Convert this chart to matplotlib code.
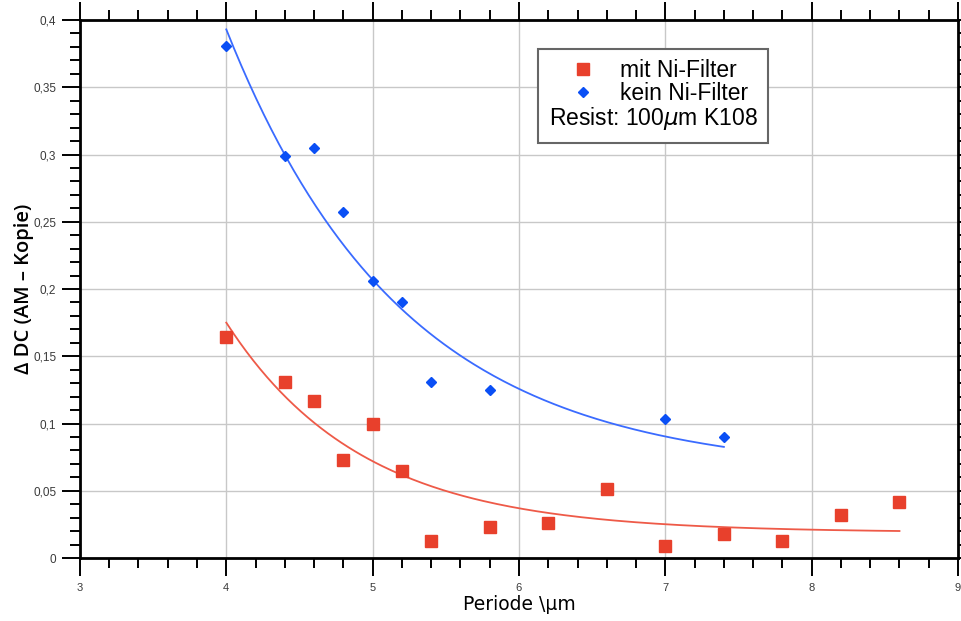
import numpy as np
from matplotlib import pyplot as plt
from matplotlib.ticker import MultipleLocator, FuncFormatter

# measured values
periode_mit = [4.0, 4.4, 4.6, 4.8, 5.0, 5.2, 5.4, 5.8, 6.2, 6.6, 7.0, 7.4, 7.8, 8.2, 8.6]
dc_mit = [0.164, 0.131, 0.117, 0.073, 0.100, 0.065, 0.013, 0.023, 0.026, 0.051,
          0.009, 0.018, 0.013, 0.032, 0.042]

periode_kein = [4.0, 4.4, 4.6, 4.8, 5.0, 5.2, 5.4, 5.8, 7.0, 7.4]
dc_kein = [0.381, 0.299, 0.305, 0.257, 0.206, 0.190, 0.131, 0.125, 0.103, 0.090]

# exponential fit y = a + b*exp(-c*(x-4)), parameters
fit_mit = (0.019, 0.156, 1.08)
fit_kein = (0.063, 0.330, 0.83)


def fit_curve(x, params):
    a, b, c = params
    return a + b * np.exp(-c * (x - 4.0))


plt.rcParams['font.family'] = ['Liberation Sans', 'DejaVu Sans']

fig = plt.figure(figsize=(9.61, 6.21), dpi=100)
ax = fig.add_axes([0.0832, 0.1014, 0.9137, 0.8664])

red = '#E8402C'
blue = '#0A4FF5'

ax.plot(periode_mit, dc_mit, 's', color=red, markersize=8.5, label='mit Ni-Filter', zorder=3)
ax.plot(periode_kein, dc_kein, 'D', color=blue, markersize=5, label='kein Ni-Filter', zorder=3)

x_mit = np.linspace(min(periode_mit), max(periode_mit), 200)
x_kein = np.linspace(min(periode_kein), max(periode_kein), 200)
ax.plot(x_mit, fit_curve(x_mit, fit_mit), '-', color='#EE5A48', lw=1.3, zorder=2)
ax.plot(x_kein, fit_curve(x_kein, fit_kein), '-', color='#3A6BFF', lw=1.3, zorder=2)

ax.set_xlim(3, 9)
ax.set_ylim(0, 0.4)

ax.xaxis.set_major_locator(MultipleLocator(1))
ax.xaxis.set_minor_locator(MultipleLocator(0.2))
ax.yaxis.set_major_locator(MultipleLocator(0.05))
ax.yaxis.set_minor_locator(MultipleLocator(0.01))
ax.yaxis.set_major_formatter(FuncFormatter(lambda v, p: ('%g' % round(v, 3)).replace('.', ',')))

ax.tick_params(which='both', direction='out', top=True, right=True, width=1.4,
               labelsize=8.5, labelcolor='#3a3a3a', pad=4)
ax.tick_params(which='major', length=13)
ax.tick_params(which='minor', length=7)
ax.tick_params(axis='x', which='major', labelsize=8, pad=5)
ax.tick_params(labeltop=False, labelright=False)

for s in ax.spines.values():
    s.set_linewidth(2)

ax.grid(which='major', color='#C8C8C8', lw=1)
ax.set_axisbelow(True)

ax.set_xlabel('Periode \\µm', fontsize=13.5, family='DejaVu Sans')
ax.xaxis.label.set_verticalalignment('center')
ax.xaxis.set_label_coords(0.5, -0.087)
ax.set_ylabel('Δ DC (AM – Kopie)', fontsize=14.5, family=['Open Sans', 'DejaVu Sans'],
              fontweight='semibold')
ax.yaxis.label.set_verticalalignment('center')
ax.yaxis.set_label_coords(-0.064, 0.5)

leg = ax.legend(loc='upper left', bbox_to_anchor=(0.522, 0.946), borderaxespad=0,
                fontsize=16.5, title='Resist: 100$\\mu$m K108', title_fontsize=16.5,
                fancybox=False, framealpha=1, edgecolor='#666666',
                handletextpad=0.5, borderpad=0.45, labelspacing=0.0, handlelength=2.2)
leg.get_frame().set_linewidth(1.5)
# put the resist note below the entries
leg._legend_box._children = leg._legend_box._children[::-1]

fig.savefig('out.png', dpi=100)
